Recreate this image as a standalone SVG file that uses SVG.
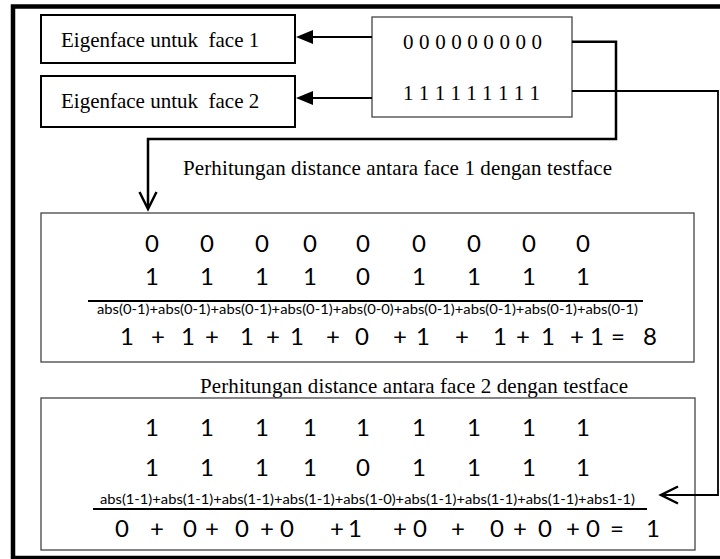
<svg xmlns="http://www.w3.org/2000/svg" width="720" height="559" viewBox="0 0 720 559">
  <style>
    .serif { font-family: "Liberation Serif", "Times New Roman", serif; font-size: 21px; fill: #000; }
    .sans { font-family: Lato, "Open Sans", sans-serif; font-size: 24px; fill: #000; text-anchor: middle; }
    .small { font-family: Lato, "Open Sans", sans-serif; font-size: 13px; fill: #000; }
    .label-box { fill: #fff; stroke: #000; stroke-width: 2; }
    .thin-box { fill: #fff; stroke: #444; stroke-width: 1.3; }
    .wire { fill: none; stroke: #000; }
    .bar { stroke: #000; stroke-width: 2.2; }
  </style>

  <!-- outer frame -->
  <rect x="13" y="6.5" width="720" height="551.5" fill="#fff" stroke="#000" stroke-width="4.5"/>

  <!-- eigenface label boxes -->
  <g id="eigenface-1">
    <rect class="label-box" x="41" y="15" width="254" height="48"/>
    <text class="serif" x="61" y="47">Eigenface untuk&#160; face 1</text>
  </g>
  <g id="eigenface-2">
    <rect class="label-box" x="41" y="76" width="254" height="51"/>
    <text class="serif" x="61" y="108">Eigenface untuk&#160; face 2</text>
  </g>

  <!-- test face bit vectors -->
  <g id="bit-vectors">
    <rect class="thin-box" x="372" y="17" width="200" height="100"/>
    <text class="serif" x="403" y="49" textLength="139">0 0 0 0 0 0 0 0 0</text>
    <text class="serif" x="403" y="100" textLength="137">1 1 1 1 1 1 1 1 1</text>
  </g>

  <!-- distance to face 1 -->
  <g id="caption-1">
    <text class="serif" x="183" y="175" textLength="429">Perhitungan distance antara face 1 dengan testface</text>
  </g>
  <g id="distance-face-1">
    <rect class="thin-box" x="41" y="213" width="653" height="149"/>
    <g class="sans">
      <text x="152" y="252">0</text><text x="207" y="252">0</text><text x="262" y="252">0</text>
      <text x="310" y="252">0</text><text x="363" y="252">0</text><text x="419" y="252">0</text>
      <text x="474" y="252">0</text><text x="529" y="252">0</text><text x="583" y="252">0</text>

      <text x="152" y="285">1</text><text x="207" y="285">1</text><text x="262" y="285">1</text>
      <text x="310" y="285">1</text><text x="363" y="285">0</text><text x="419" y="285">1</text>
      <text x="474" y="285">1</text><text x="529" y="285">1</text><text x="583" y="285">1</text>
    </g>
    <line class="bar" x1="88" y1="301" x2="643" y2="301"/>
    <text class="small" x="97" y="314" textLength="541" lengthAdjust="spacingAndGlyphs">abs(0-1)+abs(0-1)+abs(0-1)+abs(0-1)+abs(0-0)+abs(0-1)+abs(0-1)+abs(0-1)+abs(0-1)</text>
    <g class="sans">
      <text x="127" y="345">1</text><text x="158" y="345">+</text>
      <text x="188" y="345">1</text><text x="212" y="345">+</text>
      <text x="247" y="345">1</text><text x="273" y="345">+</text>
      <text x="297" y="345">1</text><text x="333" y="345">+</text>
      <text x="362" y="345">0</text><text x="400" y="345">+</text>
      <text x="423" y="345">1</text><text x="462" y="345">+</text>
      <text x="500" y="345">1</text><text x="523" y="345">+</text>
      <text x="548" y="345">1</text><text x="577" y="345">+</text>
      <text x="597" y="345">1</text><text x="618" y="345">=</text>
      <text x="650" y="345">8</text>
    </g>
  </g>

  <!-- distance to face 2 -->
  <g id="caption-2">
    <text class="serif" x="200" y="393" textLength="428">Perhitungan distance antara face 2 dengan testface</text>
  </g>
  <g id="distance-face-2">
    <rect class="thin-box" x="41" y="398" width="654" height="152"/>
    <g class="sans">
      <text x="152" y="436">1</text><text x="207" y="436">1</text><text x="262" y="436">1</text>
      <text x="310" y="436">1</text><text x="363" y="436">1</text><text x="419" y="436">1</text>
      <text x="474" y="436">1</text><text x="529" y="436">1</text><text x="583" y="436">1</text>

      <text x="152" y="476">1</text><text x="207" y="476">1</text><text x="262" y="476">1</text>
      <text x="310" y="476">1</text><text x="363" y="476">0</text><text x="419" y="476">1</text>
      <text x="474" y="476">1</text><text x="529" y="476">1</text><text x="583" y="476">1</text>
    </g>
    <text class="small" x="100" y="504" textLength="535" lengthAdjust="spacingAndGlyphs">abs(1-1)+abs(1-1)+abs(1-1)+abs(1-1)+abs(1-0)+abs(1-1)+abs(1-1)+abs(1-1)+abs1-1)</text>
    <line class="bar" x1="93" y1="509" x2="647" y2="509"/>
    <g class="sans">
      <text x="122" y="537">0</text><text x="157" y="537">+</text>
      <text x="190" y="537">0</text><text x="212" y="537">+</text>
      <text x="242" y="537">0</text><text x="267" y="537">+</text>
      <text x="287" y="537">0</text><text x="337" y="537">+</text>
      <text x="355" y="537">1</text><text x="400" y="537">+</text>
      <text x="420" y="537">0</text><text x="458" y="537">+</text>
      <text x="497" y="537">0</text><text x="520" y="537">+</text>
      <text x="545" y="537">0</text><text x="573" y="537">+</text>
      <text x="593" y="537">0</text><text x="617" y="537">=</text>
      <text x="653" y="537">1</text>
    </g>
  </g>

  <!-- connectors, drawn last so they sit over the boxes -->
  <g id="connectors">
    <path class="wire" stroke-width="2" d="M372,37 H310"/>
    <polygon points="296,37 313,30 313,44" fill="#000"/>
    <path class="wire" stroke-width="2" d="M372,98 H310"/>
    <polygon points="296,98 313,91 313,105" fill="#000"/>

    <path class="wire" stroke-width="2.5" d="M572,41.7 H616 V139 H148 V208"/>
    <polyline class="wire" stroke-width="2.5" points="139.5,192 148,209 156.5,192"/>

    <path class="wire" stroke-width="1.8" d="M572,91 H718 V495 H662"/>
    <polyline class="wire" stroke-width="2.5" points="678,486.5 661,495 678,503.5"/>
  </g>
</svg>
